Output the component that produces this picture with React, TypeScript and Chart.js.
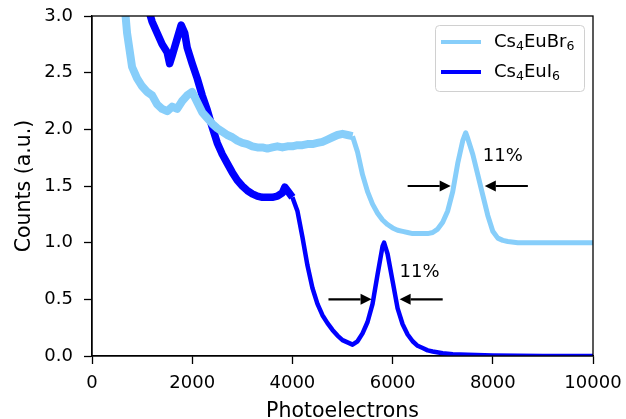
import React, { useEffect, useRef } from "react";
import { Chart, registerables } from "chart.js";

Chart.register(...registerables);

// ---- Data ----
const brX = [600, 700, 800, 900, 1000, 1100, 1200, 1300, 1400, 1500, 1600, 1700, 1800, 1900, 2000, 2100, 2200, 2300, 2400, 2500, 2600, 2700, 2800, 2900, 3000, 3100, 3200, 3300, 3400, 3500, 3600, 3700, 3800, 3900, 4000, 4100, 4200, 4300, 4400, 4500, 4600, 4700, 4800, 4900, 5000, 5100, 5200, 5300, 5400, 5500, 5600, 5700, 5800, 5900, 6000, 6100, 6200, 6300, 6400, 6500, 6600, 6700, 6800, 6900, 7000, 7100, 7200, 7300, 7400, 7460, 7500, 7600, 7700, 7800, 7900, 8000, 8100, 8200, 8300, 8500, 9000, 9500, 10000];
const brY = [3.35, 2.85, 2.55, 2.45, 2.38, 2.33, 2.30, 2.22, 2.18, 2.16, 2.20, 2.18, 2.25, 2.30, 2.33, 2.24, 2.15, 2.10, 2.05, 2.01, 1.98, 1.95, 1.93, 1.90, 1.88, 1.87, 1.85, 1.84, 1.84, 1.83, 1.84, 1.85, 1.84, 1.85, 1.85, 1.86, 1.86, 1.87, 1.87, 1.88, 1.89, 1.91, 1.93, 1.95, 1.96, 1.95, 1.94, 1.80, 1.60, 1.45, 1.34, 1.26, 1.20, 1.16, 1.13, 1.11, 1.10, 1.09, 1.08, 1.08, 1.08, 1.08, 1.09, 1.12, 1.18, 1.28, 1.45, 1.70, 1.90, 1.97, 1.92, 1.78, 1.60, 1.42, 1.24, 1.10, 1.04, 1.02, 1.01, 1.00, 1.00, 1.00, 1.00];

const iX = [1100, 1200, 1300, 1400, 1500, 1550, 1600, 1700, 1780, 1850, 1900, 2000, 2100, 2200, 2300, 2400, 2500, 2600, 2700, 2800, 2900, 3000, 3100, 3200, 3300, 3400, 3500, 3600, 3700, 3800, 3850, 3900, 4000, 4100, 4200, 4300, 4400, 4500, 4600, 4700, 4800, 4900, 5000, 5100, 5200, 5300, 5400, 5500, 5600, 5700, 5800, 5830, 5900, 6000, 6100, 6200, 6300, 6400, 6500, 6600, 6700, 6800, 7000, 7200, 7500, 8000, 9000, 10000];
const iY = [3.10, 2.95, 2.85, 2.75, 2.68, 2.58, 2.65, 2.80, 2.92, 2.85, 2.72, 2.58, 2.45, 2.30, 2.17, 2.02, 1.88, 1.78, 1.70, 1.62, 1.55, 1.50, 1.46, 1.43, 1.41, 1.40, 1.40, 1.40, 1.41, 1.44, 1.49, 1.46, 1.40, 1.28, 1.05, 0.80, 0.60, 0.46, 0.36, 0.29, 0.23, 0.18, 0.14, 0.12, 0.10, 0.13, 0.20, 0.30, 0.46, 0.72, 0.97, 1.00, 0.90, 0.66, 0.42, 0.28, 0.19, 0.13, 0.09, 0.07, 0.05, 0.04, 0.025, 0.015, 0.01, 0.005, 0.0, 0.0];

const seriesNames = [["Cs", "4", "EuBr", "6"], ["Cs", "4", "EuI", "6"]];
const seriesColors = ["#87CEFA", "#0000FF"];

const xTicks = [0, 2000, 4000, 6000, 8000, 10000];
const yTicks = [0, 0.5, 1.0, 1.5, 2.0, 2.5, 3.0];
const xTitle = "Photoelectrons";
const yTitle = "Counts (a.u.)";

// arrows: [tailX, tipX, y]
const arrows = [
  [6300, 7160, 1.5],
  [8700, 7840, 1.5],
  [4720, 5580, 0.5],
  [7000, 6140, 0.5],
];
// labels: [x, y, text]
const labels: [number, number, string][] = [
  [7800, 1.76, "11%"],
  [6140, 0.74, "11%"],
];

const FONT = "'DejaVu Sans', sans-serif";

const framePlugin = {
  id: "frame",
  afterDatasetsDraw(chart: any) {
    const { ctx, chartArea: a, scales } = chart;
    const xs = scales.x, ys = scales.y;
    ctx.save();
    // arrows
    ctx.strokeStyle = "#000";
    ctx.fillStyle = "#000";
    ctx.lineWidth = 2.2;
    for (const [tx, hx, yv] of arrows) {
      const x0 = xs.getPixelForValue(tx);
      const x1 = xs.getPixelForValue(hx);
      const y = ys.getPixelForValue(yv);
      const dir = Math.sign(x1 - x0);
      const hl = 11, hw = 5.5;
      ctx.beginPath();
      ctx.moveTo(x0, y);
      ctx.lineTo(x1 - dir * hl, y);
      ctx.stroke();
      ctx.beginPath();
      ctx.moveTo(x1, y);
      ctx.lineTo(x1 - dir * hl, y - hw);
      ctx.lineTo(x1 - dir * hl, y + hw);
      ctx.closePath();
      ctx.fill();
    }
    ctx.font = `18px ${FONT}`;
    ctx.textBaseline = "middle";
    ctx.textAlign = "left";
    for (const [lx, ly, t] of labels) {
      ctx.fillText(t, xs.getPixelForValue(lx), ys.getPixelForValue(ly));
    }
    // frame
    ctx.strokeStyle = "#000";
    ctx.lineWidth = 1.3;
    ctx.strokeRect(a.left, a.top, a.right - a.left, a.bottom - a.top);

    // axis titles
    ctx.fillStyle = "#000";
    ctx.font = `20.5px ${FONT}`;
    ctx.textAlign = "center";
    ctx.textBaseline = "alphabetic";
    ctx.fillText(xTitle, (a.left + a.right) / 2, 417);
    ctx.save();
    ctx.translate(30, (a.top + a.bottom) / 2);
    ctx.rotate(-Math.PI / 2);
    ctx.fillText(yTitle, 0, 0);
    ctx.restore();

    // legend
    const bx = 435, by = 25, bw = 149, bh = 66, r = 4;
    ctx.fillStyle = "rgba(255,255,255,0.8)";
    ctx.strokeStyle = "#d0d0d0";
    ctx.lineWidth = 1;
    ctx.beginPath();
    ctx.roundRect(bx + 0.5, by + 0.5, bw, bh, r);
    ctx.fill();
    ctx.stroke();
    ctx.textAlign = "left";
    seriesNames.forEach((parts, i) => {
      const y = 42 + i * 30;
      ctx.strokeStyle = seriesColors[i];
      ctx.lineWidth = 4;
      ctx.beginPath();
      ctx.moveTo(441, y);
      ctx.lineTo(481, y);
      ctx.stroke();
      let x = 494;
      ctx.fillStyle = "#000";
      ctx.textBaseline = "alphabetic";
      parts.forEach((p, j) => {
        const sub = j % 2 === 1;
        ctx.font = sub ? `12.5px ${FONT}` : `18px ${FONT}`;
        ctx.fillText(p, x, sub ? y + 8 : y + 5);
        x += ctx.measureText(p).width;
      });
    });
    ctx.restore();
  },
};

const zeroPad = (s: any) => {
  s.paddingLeft = 0;
  s.paddingRight = 0;
  s.paddingTop = 0;
  s.paddingBottom = 0;
};

export default function App() {
  const ref = useRef<HTMLCanvasElement>(null);
  useEffect(() => {
    document.body.style.margin = "0";
    const mk = (xa: number[], ya: number[]) => xa.map((x, i) => ({ x, y: ya[i] }));
    const chart = new Chart(ref.current!, {
      type: "line",
      data: {
        datasets: [
          {
            label: "Cs4EuBr6",
            data: mk(brX, brY),
            borderColor: seriesColors[0],
            borderWidth: 5,
            pointRadius: 0,
            tension: 0,
            clip: 0,
            borderJoinStyle: "round",
            segment: { borderWidth: (c: any) => (c.p0.parsed.x < 5200 ? 8 : 5) },
          } as any,
          {
            label: "Cs4EuI6",
            data: mk(iX, iY),
            borderColor: seriesColors[1],
            borderWidth: 4.5,
            pointRadius: 0,
            tension: 0,
            clip: 0,
            borderJoinStyle: "round",
            segment: { borderWidth: (c: any) => (c.p0.parsed.x < 4000 ? 7.5 : 4.5) },
          } as any,
        ],
      },
      options: {
        animation: false,
        responsive: false,
        parsing: false as any,
        layout: { padding: { top: 16, right: 33, left: 0, bottom: 0 } },
        plugins: { legend: { display: false }, tooltip: { enabled: false } },
        scales: {
          x: {
            type: "linear",
            min: 0,
            max: 10000,
            afterFit: (s: any) => { s.height = 63; zeroPad(s); },
            afterBuildTicks: (s: any) => { s.ticks = xTicks.map((v) => ({ value: v })); },
            grid: { drawOnChartArea: false, drawTicks: true, tickLength: 8, tickColor: "#000", tickWidth: 1.3 },
            border: { display: true, color: "#000", width: 1.3 },
            ticks: { color: "#000", font: { family: FONT, size: 18 }, padding: 9, maxRotation: 0, callback: (v: any) => String(v) },
            title: { display: false },
          },
          y: {
            type: "linear",
            min: 0,
            max: 3,
            afterFit: (s: any) => { s.width = 92; zeroPad(s); },
            afterBuildTicks: (s: any) => { s.ticks = yTicks.map((v) => ({ value: v })); },
            grid: { drawOnChartArea: false, drawTicks: true, tickLength: 8, tickColor: "#000", tickWidth: 1.3 },
            border: { display: true, color: "#000", width: 1.3 },
            ticks: { color: "#000", font: { family: FONT, size: 18 }, padding: 11, callback: (v: any) => Number(v).toFixed(1) },
            title: { display: false },
          },
        },
      },
      plugins: [framePlugin],
    });
    return () => chart.destroy();
  }, []);
  return (
    <div style={{ width: 626, height: 419 }}>
      <canvas ref={ref} width={626} height={419} style={{ display: "block" }} />
    </div>
  );
}
